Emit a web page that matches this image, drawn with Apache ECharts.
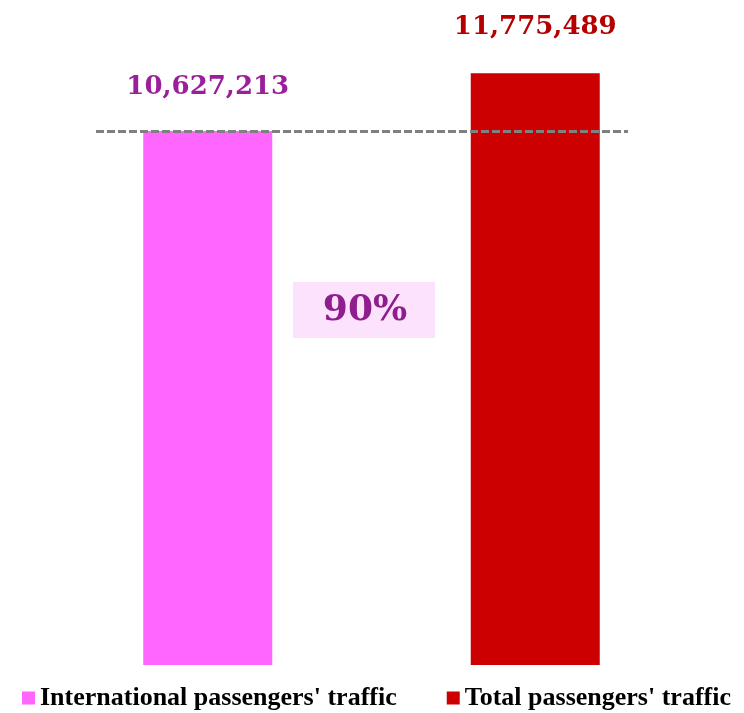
<!DOCTYPE html>
<html>
<head>
<meta charset="utf-8">
<script src="https://cdn.jsdelivr.net/npm/echarts@6/dist/echarts.min.js"></script>
<style>
  html, body { margin: 0; padding: 0; background: #fff; }
  #main { width: 744px; height: 713px; }
</style>
</head>
<body>
<div id="main"></div>
<script>
// 数据
var categories = ['International', 'Total'];
var seriesNames = ["International passengers' traffic", "Total passengers' traffic"];
var intlValues = [10627213, null];
var totalValues = [null, 11775489];
var barColors = ['#ff66ff', '#cc0000'];
var labelColors = ['#9b1e9b', '#b50000'];

var serifFont = "'Liberation Serif', 'Times New Roman', serif";
var wideSerif = "'DejaVu Serif', serif";
var ratioText = Math.round(intlValues[0] / totalValues[1] * 100) + '%';

function fmt(p) {
    return Number(p.value).toLocaleString('en-US');
}

var Chart = echarts.init(document.getElementById('main'));
Chart.setOption({
    animation: false,
    grid: {
        left: 44,
        right: 45,
        top: 62,
        bottom: 48
    },
    legend: {
        left: 17,
        top: 680,
        icon: 'rect',
        itemWidth: 13,
        itemHeight: 13,
        itemGap: 50,
        textStyle: {
            fontFamily: serifFont,
            fontWeight: 'bold',
            fontSize: 26,
            color: '#000'
        },
        data: seriesNames
    },
    xAxis: {
        type: 'category',
        data: categories,
        axisLine: { show: false },
        axisTick: { show: false },
        axisLabel: { show: false }
    },
    yAxis: {
        type: 'value',
        min: 0,
        max: 12000000,
        show: false,
        splitLine: { show: false }
    },
    series: [
        {
            name: seriesNames[0],
            type: 'bar',
            stack: 'one',
            barWidth: 129,
            itemStyle: { color: barColors[0] },
            label: {
                show: true,
                position: 'top',
                distance: 31,
                formatter: fmt,
                fontFamily: wideSerif,
                fontWeight: 'bold',
                fontSize: 26,
                color: labelColors[0]
            },
            markLine: {
                silent: true,
                symbol: 'none',
                label: { show: false },
                lineStyle: { color: '#808080', type: [8, 3], width: 3 },
                data: [[{ x: 96, yAxis: intlValues[0] }, { x: 628, yAxis: intlValues[0] }]]
            },
            data: intlValues
        },
        {
            name: seriesNames[1],
            type: 'bar',
            stack: 'one',
            barWidth: 129,
            itemStyle: { color: barColors[1] },
            label: {
                show: true,
                position: 'top',
                distance: 33,
                formatter: fmt,
                fontFamily: wideSerif,
                fontWeight: 'bold',
                fontSize: 26,
                color: labelColors[1]
            },
            data: totalValues
        }
    ],
    graphic: [
        {
            type: 'rect',
            left: 293,
            top: 282,
            shape: { width: 142, height: 56 },
            style: { fill: '#fde2fd' }
        },
        {
            type: 'text',
            x: 365,
            y: 311,
            style: {
                text: ratioText,
                font: 'bold 36px ' + wideSerif,
                fill: '#8e1e8e',
                align: 'center',
                verticalAlign: 'middle'
            }
        }
    ]
});
</script>
</body>
</html>
